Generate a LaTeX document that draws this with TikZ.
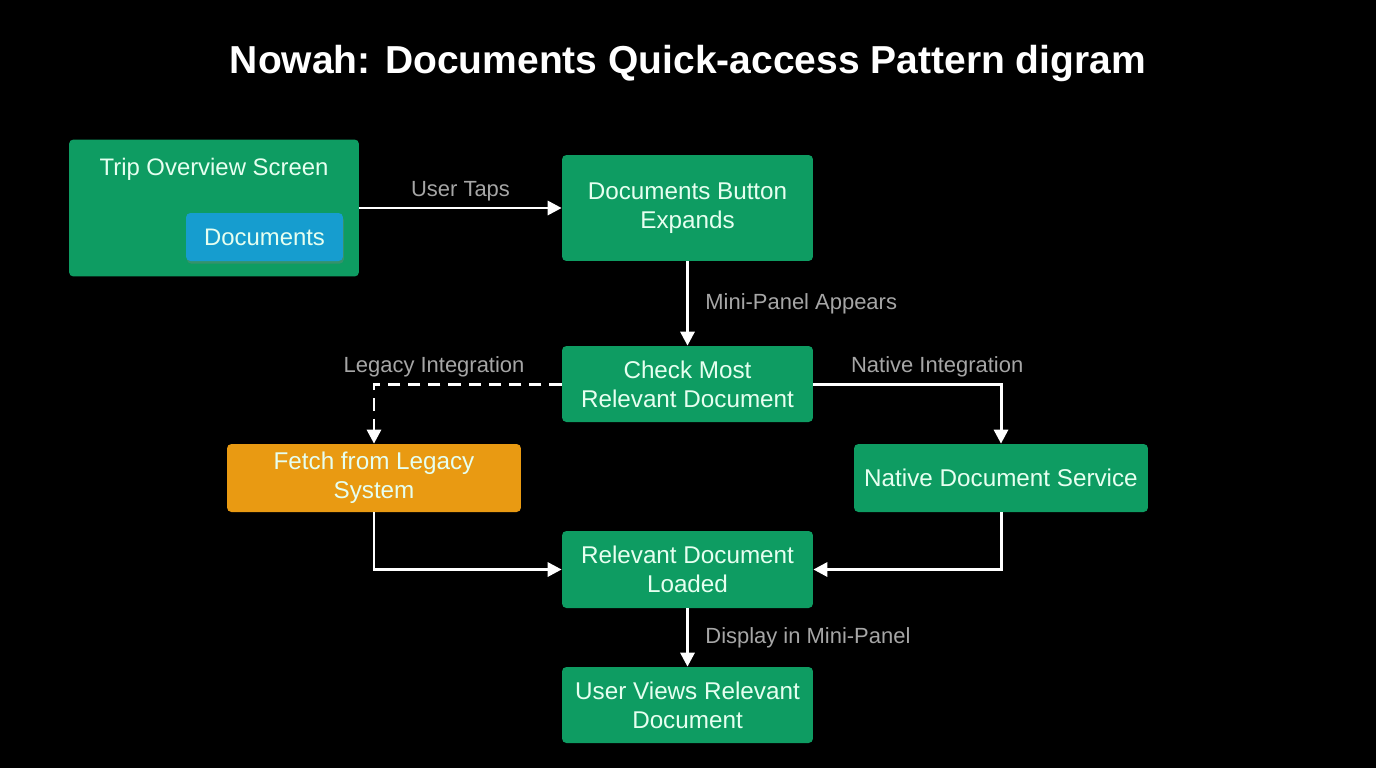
\documentclass[tikz,border=0pt]{standalone}
\usepackage{fontspec}
\setmainfont{Liberation Sans}
\usetikzlibrary{arrows.meta, positioning, calc, shadows}
\definecolor{StepGreen}{HTML}{0E9C62}
\definecolor{LegacyOrange}{HTML}{E99A12}
\definecolor{ButtonBlue}{HTML}{169DCF}
\definecolor{LabelGray}{HTML}{A6A6A6}
\definecolor{BoxText}{HTML}{E6FFF0}

\begin{document}
\begin{tikzpicture}[x=0.02cm, y=-0.02cm,
    stepbox/.style={fill=StepGreen, rounded corners=2.5pt, text=BoxText, align=center,
      font=\fontsize{13.8}{16.5}\selectfont, minimum width=5.02cm, minimum height=1.52cm, inner sep=0pt},
    flow/.style={draw=white, line width=1.7pt, -{Triangle[length=8pt, width=8pt]}},
    lbl/.style={text=LabelGray, font=\fontsize{12.5}{15}\selectfont}]

  % background, fixes the page size
  \fill[black] (0,0) rectangle (1376,768);

  \node[text=white, font=\bfseries\fontsize{22.2}{26}\selectfont] (title) at (688,63) {Nowah: Documents Quick-access Pattern digram};

  % trip overview screen with its button
  \node[stepbox, minimum width=5.8cm, minimum height=2.74cm] (trip) at (214,208) {};
  \node[text=BoxText, font=\fontsize{13.6}{16.5}\selectfont] (triplabel) at (214,169) {Trip Overview Screen};
  \node[fill=ButtonBlue, rounded corners=2.5pt, text=BoxText, font=\fontsize{13.6}{16.5}\selectfont,
    minimum width=3.14cm, minimum height=0.96cm, inner sep=0pt,
    drop shadow={opacity=0.35, shadow xshift=0.5pt, shadow yshift=-1.5pt}] (docsbtn) at (264.5,237) {Documents};

  \node[stepbox, minimum height=2.12cm] (expands) at (687.5,208) {Documents Button\\Expands};
  \node[stepbox] (check) at (687.5,384) {Check Most\\Relevant Document};
  \node[stepbox, fill=LegacyOrange, minimum width=5.88cm, minimum height=1.36cm] (legacy) at (374,478) {Fetch from Legacy\\System};
  \node[stepbox, minimum width=5.88cm, minimum height=1.36cm] (native) at (1001,478) {Native Document Service};
  \node[stepbox, minimum height=1.54cm] (loaded) at (687.5,569.5) {Relevant Document\\Loaded};
  \node[stepbox] (views) at (687.5,705) {User Views Relevant\\Document};

  % connectors
  \draw[flow] (trip.east) -- (expands.west) node[lbl, midway, above=0pt] {User Taps};
  \draw[flow] (expands) -- (check) node[lbl, midway, anchor=west, xshift=6pt] {Mini-Panel Appears};
  \draw[flow, dash pattern=on 7pt off 4.5pt] (check.west) -| (legacy.north) node[lbl, pos=0.34, above=0pt] {Legacy Integration};
  \draw[flow] (check.east) -| (native.north) node[lbl, pos=0.33, above=0pt] {Native Integration};
  \draw[flow] (legacy.south) |- (loaded.west);
  \draw[flow] (native.south) |- (loaded.east);
  \draw[flow] (loaded) -- (views) node[lbl, midway, anchor=west, xshift=6pt] {Display in Mini-Panel};
\end{tikzpicture}
\end{document}
